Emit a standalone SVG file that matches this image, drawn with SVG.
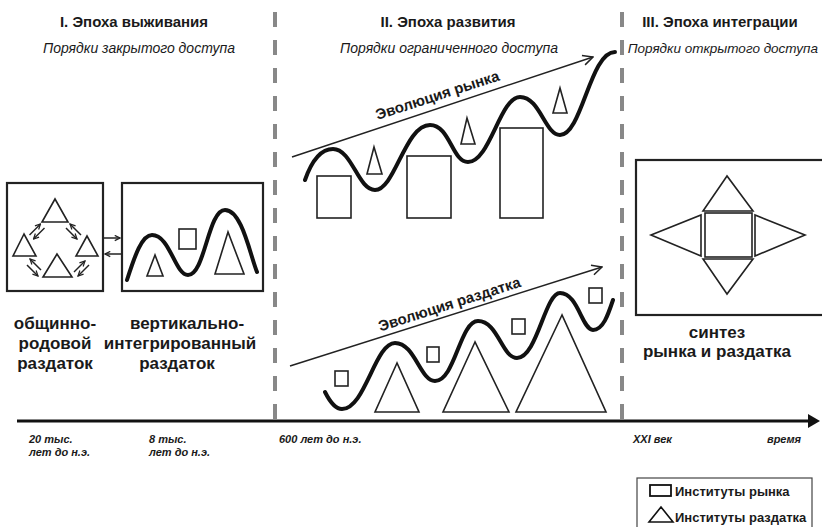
<svg xmlns="http://www.w3.org/2000/svg" width="822" height="527" viewBox="0 0 822 527">
<defs>
<style>
.t{font-family:"Liberation Sans",Arial,sans-serif;fill:#1a1a1a}
.h{font-size:15px;font-weight:bold;text-anchor:middle}
.s{font-size:14px;font-style:italic;text-anchor:middle}
.l{font-size:17px;font-weight:bold;text-anchor:middle}
.d{font-size:11px;font-weight:bold;font-style:italic}
.e{font-size:15px;font-weight:bold;text-anchor:middle}
.g{font-size:13px;font-weight:bold}
.box{fill:#fff;stroke:#222;stroke-width:2.2}
.sh{fill:#fff;stroke:#222;stroke-width:1.6}
.cv{fill:none;stroke:#111;stroke-width:4;stroke-linecap:round}
.ar{fill:none;stroke:#222;stroke-width:1.5}
.dash{stroke:#888;stroke-width:4;stroke-dasharray:15 13}
</style>
<marker id="chev" viewBox="0 0 12 12" refX="11" refY="6" markerWidth="12" markerHeight="12" markerUnits="userSpaceOnUse" orient="auto">
<path d="M1,1 L11,6 L1,11" fill="none" stroke="#222" stroke-width="1.5"/>
</marker>
<marker id="sm" viewBox="0 0 8 8" refX="7" refY="4" markerWidth="7" markerHeight="7" markerUnits="userSpaceOnUse" orient="auto">
<path d="M1,1 L7,4 L1,7" fill="none" stroke="#222" stroke-width="1.4"/>
</marker>
<marker id="tri" viewBox="0 0 12 14" refX="2" refY="7" markerWidth="12" markerHeight="14" markerUnits="userSpaceOnUse" orient="auto">
<path d="M0,0 L12,7 L0,14 Z" fill="#111"/>
</marker>
</defs>
<rect width="822" height="527" fill="#fff"/>

<g id="dividers">
<line class="dash" x1="275" y1="12" x2="275" y2="430"/>
<line class="dash" x1="622" y1="12" x2="622" y2="430"/>
</g>

<g id="axis">
<line x1="17" y1="421" x2="810" y2="421" stroke="#111" stroke-width="3" marker-end="url(#tri)"/>
</g>

<g id="headers">
<text class="t h" x="134" y="27">I. Эпоха  выживания</text>
<text class="t s" x="139" y="53">Порядки закрытого доступа</text>
<text class="t h" x="448" y="27">II. Эпоха развития</text>
<text class="t s" x="449" y="53">Порядки ограниченного доступа</text>
<text class="t h" x="720" y="27">III. Эпоха интеграции</text>
<text class="t s" x="818" y="53" style="text-anchor:end;font-size:13.5px">Порядки открытого доступа</text>
</g>

<g id="node-communal">
<rect class="box" x="7" y="183" width="96" height="108"/>
<polygon class="sh" points="55,199 42,222 68,222"/>
<polygon class="sh" points="24,234 13,256 36,256"/>
<polygon class="sh" points="87,236 76,256 98,256"/>
<polygon class="sh" points="57,254 43,277 72,277"/>
<g class="ar">
<line x1="29.5" y1="235" x2="40.5" y2="224" marker-end="url(#sm)"/>
<line x1="44.5" y1="228" x2="33.5" y2="239" marker-end="url(#sm)"/>
<line x1="66" y1="228" x2="77" y2="239" marker-end="url(#sm)"/>
<line x1="81" y1="235" x2="70" y2="224" marker-end="url(#sm)"/>
<line x1="27" y1="265" x2="38" y2="276" marker-end="url(#sm)"/>
<line x1="41" y1="270" x2="30" y2="259" marker-end="url(#sm)"/>
<line x1="74" y1="272" x2="85" y2="261" marker-end="url(#sm)"/>
<line x1="89" y1="265" x2="78" y2="276" marker-end="url(#sm)"/>
</g>
<text class="t l" x="55" y="329">общинно-</text>
<text class="t l" x="55" y="349">родовой</text>
<text class="t l" x="55" y="369">раздаток</text>
</g>

<g id="node-vertical">
<rect class="box" x="122" y="183" width="141" height="108"/>
<polygon class="sh" points="155,255 147,276 163,276"/>
<rect class="sh" x="179" y="229" width="17" height="20"/>
<polygon class="sh" points="228,232 215,274 244,274"/>
<path class="cv" d="M127,280 C135,255 142,235 152,235 C170,235 175,275 188,275 C205,275 208,210 225,210 C242,210 250,255 257,272"/>
<text class="t l" x="187" y="329">вертикально-</text>
<text class="t l" x="180" y="349">интегрированный</text>
<text class="t l" x="177" y="369">раздаток</text>
</g>

<g id="node-market">
<rect class="sh" x="317" y="176" width="34" height="42"/>
<rect class="sh" x="407" y="156" width="44" height="62"/>
<rect class="sh" x="500" y="128" width="43" height="90"/>
<polygon class="sh" points="374,147 367,174 382,174"/>
<polygon class="sh" points="467,118 461,144 475,144"/>
<polygon class="sh" points="560,88 553,113 567,113"/>
<path class="cv" d="M305,180 C312,160 322,149 333,149 C352,149 358,190 375,190 C395,190 405,125 430,125 C450,125 452,162 468,162 C490,162 500,97 520,97 C540,97 545,135 560,135 C582,135 590,52 615,52"/>
<text class="t e" x="439" y="100" transform="rotate(-18 439 100)">Эволюция  рынка</text>
</g>

<g id="node-distribution">
<polygon class="sh" points="397,363 375,412 419,412"/>
<polygon class="sh" points="475,342 443,412 509,412"/>
<polygon class="sh" points="562,315 516,412 606,412"/>
<rect class="sh" x="335" y="371" width="13" height="15"/>
<rect class="sh" x="427" y="347" width="12" height="15"/>
<rect class="sh" x="512" y="319" width="13" height="15"/>
<rect class="sh" x="589" y="288" width="13" height="15"/>
<path class="cv" d="M325,392 C330,402 335,409 342,409 C365,409 375,343 395,343 C415,343 420,381 435,381 C455,381 460,321 478,321 C498,321 502,358 517,358 C537,358 545,293 560,293 C578,293 582,330 593,330 C603,330 608,315 613,300"/>
<text class="t e" x="451" y="309" transform="rotate(-17.6 451 309)">Эволюция раздатка</text>
</g>

<g id="node-synthesis">
<rect class="box" x="636" y="160" width="200" height="155"/>
<rect class="sh" x="705" y="213" width="47" height="44"/>
<polygon class="sh" points="727,176 703,211 753,211"/>
<polygon class="sh" points="727,294 703,259 753,259"/>
<polygon class="sh" points="651,235 701,215 701,256"/>
<polygon class="sh" points="805,235 755,215 755,256"/>
<text class="t l" x="717" y="338">синтез</text>
<text class="t l" x="717" y="357">рынка и раздатка</text>
</g>

<g id="connectors">
<line class="ar" x1="104" y1="238" x2="120" y2="238" marker-end="url(#sm)"/>
<line class="ar" x1="121" y1="254" x2="105" y2="254" marker-end="url(#sm)"/>
<line class="ar" x1="292" y1="157" x2="593" y2="57" marker-end="url(#chev)"/>
<line class="ar" x1="290" y1="366" x2="602" y2="267" marker-end="url(#chev)"/>
</g>

<g id="dates">
<text class="t d" x="29" y="443">20 тыс.</text>
<text class="t d" x="29" y="456">лет до н.э.</text>
<text class="t d" x="149" y="443">8 тыс.</text>
<text class="t d" x="149" y="456">лет до н.э.</text>
<text class="t d" x="279" y="443">600 лет до н.э.</text>
<text class="t d" x="633" y="443">XXI век</text>
<text class="t d" x="767" y="443">время</text>
</g>

<g id="legend">
<rect x="637" y="478" width="175" height="54" fill="#fff" stroke="#444" stroke-width="1.2"/>
<rect x="650" y="485" width="21" height="11" fill="#fff" stroke="#111" stroke-width="1.8"/>
<text class="t g" x="675" y="496">Институты рынка</text>
<polygon points="661,507 649,522 673,522" fill="#fff" stroke="#111" stroke-width="1.6"/>
<text class="t g" x="675" y="522">Институты раздатка</text>
</g>
</svg>
